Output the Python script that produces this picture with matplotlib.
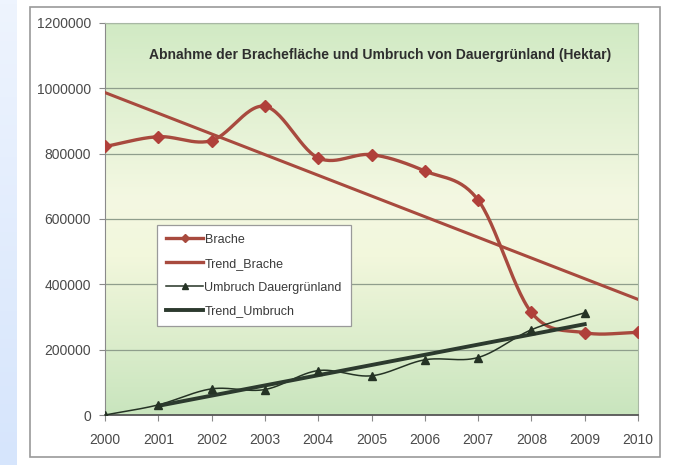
import matplotlib
matplotlib.use("Agg")
import matplotlib.pyplot as plt
import numpy as np
from matplotlib.colors import LinearSegmentedColormap
from matplotlib.patches import Rectangle

years = [2000, 2001, 2002, 2003, 2004, 2005, 2006, 2007, 2008, 2009, 2010]
brache = [822000, 852000, 840000, 945000, 787000, 797000, 747000, 658000, 314000, 252000, 253000]
trend_brache_years = [2000, 2010]
trend_brache = [987000, 354000]

umbruch_years = [2000, 2001, 2002, 2003, 2004, 2005, 2006, 2007, 2008, 2009]
umbruch = [0, 31000, 80000, 78000, 136000, 120000, 169000, 176000, 261000, 313000]
trend_umbruch_years = [2001, 2009]
trend_umbruch = [28000, 278000]

title = "Abnahme der Brachefläche und Umbruch von Dauergrünland (Hektar)"
sans = ["Liberation Sans", "DejaVu Sans"]


def smooth(x, y, n=30):
    # Catmull-Rom spline through the points (like Excel's smoothed lines)
    x = np.asarray(x, float)
    y = np.asarray(y, float)
    px = np.concatenate([[2 * x[0] - x[1]], x, [2 * x[-1] - x[-2]]])
    py = np.concatenate([[2 * y[0] - y[1]], y, [2 * y[-1] - y[-2]]])
    xs, ys = [], []
    t = np.linspace(0, 1, n)
    for i in range(1, len(px) - 2):
        for p, out in ((px, xs), (py, ys)):
            p0, p1, p2, p3 = p[i - 1], p[i], p[i + 1], p[i + 2]
            out.append(0.5 * (2 * p1 + (-p0 + p2) * t
                              + (2 * p0 - 5 * p1 + 4 * p2 - p3) * t ** 2
                              + (-p0 + 3 * p1 - 3 * p2 + p3) * t ** 3))
    return np.concatenate(xs), np.concatenate(ys)


fig = plt.figure(figsize=(6.74, 4.65), dpi=100)
fig.patch.set_facecolor("white")

# light blue strip on the left edge
strip = fig.add_axes([0, 0, 17 / 674, 1])
strip.imshow(np.linspace(0, 1, 100).reshape(-1, 1), aspect="auto",
             cmap=LinearSegmentedColormap.from_list("b", ["#eef4fe", "#d6e5fc"]),
             extent=[0, 1, 0, 1], origin="upper")
strip.axis("off")

# frame around the chart
fig.patches.append(Rectangle((30 / 674, 1 - 457 / 465), 630 / 674, 450 / 465,
                             transform=fig.transFigure, fill=False,
                             edgecolor="#9a9a9a", linewidth=1.2))

ax = fig.add_axes([105 / 674, 1 - 415 / 465, 533 / 674, 392 / 465])
ax.set_xlim(2000, 2010)
ax.set_ylim(0, 1200000)

bg = LinearSegmentedColormap.from_list(
    "bg", [(0, "#d1eac4"), (0.45, "#f4f8e2"), (0.6, "#f2f7dc"), (1, "#c9e5be")])
ax.imshow(np.linspace(0, 1, 200).reshape(-1, 1), aspect="auto", cmap=bg,
          extent=[2000, 2010, 0, 1200000], origin="upper", zorder=0)

for v in range(200000, 1200001, 200000):
    ax.axhline(v, color="#8f9e8c", linewidth=0.9, zorder=1)

bx, by = smooth(years, brache)
ax.plot(bx, by, color="#a84a3e", linewidth=2.4, zorder=3)
ax.plot(years, brache, linestyle="none", marker="D", markersize=6.5,
        color="#b0403a", zorder=4)
ax.plot(trend_brache_years, trend_brache, color="#a84a3e", linewidth=2.2, zorder=3)

ux, uy = smooth(umbruch_years, umbruch)
ax.plot(ux, uy, color="#253325", linewidth=1.1, zorder=3)
ax.plot(umbruch_years, umbruch, linestyle="none", marker="^", markersize=6,
        color="#253325", zorder=4)
ax.plot(trend_umbruch_years, trend_umbruch, color="#2c3a2e", linewidth=2.8, zorder=3)

# legend proxies
h1, = ax.plot([], [], color="#a84a3e", linewidth=2.4, marker="D", markersize=4,
              label="Brache")
h2, = ax.plot([], [], color="#a84a3e", linewidth=2.4, label="Trend_Brache")
h3, = ax.plot([], [], color="#253325", linewidth=1.1, marker="^", markersize=5,
              label="Umbruch Dauergrünland")
h4, = ax.plot([], [], color="#2c3a2e", linewidth=2.8, label="Trend_Umbruch")
leg = ax.legend(handles=[h1, h2, h3, h4], loc="upper left",
                bbox_to_anchor=(52 / 533, 190 / 392), frameon=True, fancybox=False,
                borderpad=0.7, labelspacing=0.95, handlelength=3.0, handletextpad=0.1,
                borderaxespad=0, prop={"family": sans, "size": 9})
leg.get_frame().set_edgecolor("#9a9a9a")
leg.get_frame().set_linewidth(0.9)
leg.get_frame().set_facecolor("white")
leg.get_frame().set_alpha(1)
leg.set_zorder(5)
for txt in leg.get_texts():
    txt.set_color("#3a3a3a")

ax.text(0.516, 0.918, title, transform=ax.transAxes, ha="center", va="center",
        fontsize=10, fontweight="bold", color="#2e2e2e", family=sans, zorder=6)

ax.set_xticks(years)
ax.set_xticklabels([str(y) for y in years])
ax.set_yticks(range(0, 1200001, 200000))
ax.set_yticklabels([str(v) for v in range(0, 1200001, 200000)])
for lab in ax.get_xticklabels() + ax.get_yticklabels():
    lab.set_family(sans)
    lab.set_fontsize(10)
    lab.set_color("#4a4a4a")
ax.tick_params(axis="x", length=4, color="#8a8a8a", pad=9)
ax.tick_params(axis="y", length=4, color="#8a8a8a", pad=6)

for side in ("top", "right"):
    ax.spines[side].set_color("#a8b8a4")
    ax.spines[side].set_linewidth(0.8)
ax.spines["left"].set_color("#8a8a8a")
ax.spines["bottom"].set_color("#555555")
ax.spines["bottom"].set_linewidth(1.3)

fig.savefig("out.png", dpi=100)
